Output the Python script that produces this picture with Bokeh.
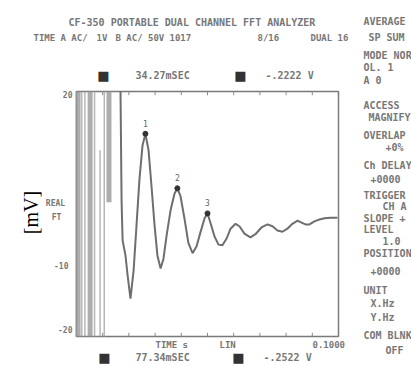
import numpy as np
from bokeh.plotting import figure
from bokeh.models import Range1d, Label
from bokeh.core.properties import value
from bokeh.embed import file_html
from bokeh.resources import INLINE

# ---- data (time in ms, amplitude in mV) ----
curve_t = [16.8, 17.2, 17.6, 18.7, 19.5, 20.6, 21.8, 22.9, 24.0, 25.2, 26.3, 27.5, 28.6,
           29.8, 30.9, 32.1, 33.2, 34.4, 35.9, 37.4, 38.5, 39.7, 41.2, 42.7, 44.3, 45.8,
           47.3, 48.9, 50.0, 51.1, 52.7, 54.2, 55.7, 57.3, 58.8, 60.7, 62.2, 64.1, 66.4,
           68.3, 70.6, 72.9, 74.8, 76.7, 78.6, 80.5, 82.4, 84.4, 85.9, 87.4, 88.9, 90.8,
           92.7, 94.7, 96.9, 99.6]
curve_v = [20.0, 2.2, -4.3, -6.8, -10.0, -13.8, -9.2, -1.9, 5.5, 11.2, 13.1, 10.4, 4.7,
           -1.9, -6.8, -8.9, -7.3, -3.5, 0.6, 3.3, 4.2, 2.9, -0.7, -4.7, -6.4, -5.3,
           -3.0, -0.7, 0.1, -1.4, -3.7, -5.0, -5.1, -4.0, -2.4, -1.6, -2.0, -3.2, -3.8,
           -3.3, -2.2, -1.7, -2.0, -2.7, -2.9, -2.4, -1.6, -1.1, -1.4, -1.7, -1.7, -1.2,
           -0.9, -0.7, -0.6, -0.6]

band_t = [0.6, 5.2, 12.4]
band_lo = [-20.0, -20.0, 1.9]
band_hi = [20.0, 20.0, 20.0]

thin_t = [2.0, 3.2, 6.9, 9.0, 10.6]
thin_lo = [-20.0, -20.0, -20.0, -20.0, -20.0]
thin_hi = [20.0, 20.0, 20.0, 10.4, 20.0]

peak_t = [26.3, 38.5, 50.0]
peak_v = [13.1, 4.2, 0.1]
peak_lbl = ["1", "2", "3"]

x_lim = [0, 100]
y_lim = [-20, 20]
x_ticks = [10, 20, 30, 40, 50, 60, 70, 80, 90]
y_tick_lbl = ["20", "-10", "-20"]

# page geometry: plot box spans x 76..338, y 91..336 of a 411x366 canvas
W, H = 411, 366
BX0, BX1, BY0, BY1 = 76, 338, 91, 336
sx = (x_lim[1] - x_lim[0]) / (BX1 - BX0)
sy = (y_lim[1] - y_lim[0]) / (BY1 - BY0)
xr = Range1d(x_lim[0] - BX0 * sx, x_lim[1] + (W - BX1) * sx)
yr = Range1d(y_lim[0] - (H - BY1) * sy, y_lim[1] + BY0 * sy)

p = figure(width=W, height=H, frame_width=W, frame_height=H, x_range=xr, y_range=yr,
           x_axis_location=None, y_axis_location=None,
           output_backend="svg", toolbar_location=None, min_border=0)
p.grid.visible = False
p.outline_line_color = None
p.background_fill_color = "white"
p.border_fill_color = "white"

# plot box and inner tick marks
p.quad(left=[x_lim[0]], right=[x_lim[1]], bottom=[y_lim[0]], top=[y_lim[1]],
       fill_color=None, line_color="#7a7a7a", line_width=1.5)
n = len(x_ticks)
p.segment(x0=x_ticks, x1=x_ticks, y0=[y_lim[1]] * n, y1=[y_lim[1] - 0.6] * n, line_color="#888888", line_width=1)
p.segment(x0=x_ticks, x1=x_ticks, y0=[y_lim[0]] * n, y1=[y_lim[0] + 0.6] * n, line_color="#888888", line_width=1)

p.segment(x0=band_t, x1=band_t, y0=band_lo, y1=band_hi, line_color="#999999", line_width=5, line_alpha=0.8)
p.segment(x0=thin_t, x1=thin_t, y0=thin_lo, y1=thin_hi, line_color="#a4a4a4", line_width=1.5, line_alpha=0.8)
p.line(curve_t, curve_v, line_color="#6e6e6e", line_width=2)
p.scatter(peak_t, peak_v, size=5, color="#333333")
p.text(peak_t, peak_v, text=peak_lbl, y_offset=-7, text_font=value("DejaVu Sans Mono"),
       text_font_size="8px", text_color="#666666", text_align="center", text_baseline="bottom")

GRAY = "#777777"


def lab(text, xp, yp, size=10, color=GRAY, align="left", font="DejaVu Sans Mono",
        style="bold", angle=0.0):
    p.add_layout(Label(x=xp, y=H - yp, x_units="screen", y_units="screen", text=text,
                       text_font=font, text_font_size=f"{size}px", text_color=color,
                       text_align=align, text_baseline="middle", angle=angle,
                       text_font_style=style))

# header
lab("CF-350 PORTABLE DUAL CHANNEL FFT ANALYZER", 68, 22, size=10)
lab("TIME", 33, 37, size=9)
lab("A AC/", 60, 37, size=9)
lab("1V", 96, 37, size=9)
lab("B AC/ 50V", 115, 37, size=9)
lab("1017", 169, 37, size=9)
lab("8/16", 257, 37, size=9)
lab("DUAL 16", 310, 37, size=9)
# cursor rows
for cx, cy in [(103, 75), (240, 75), (104, 357), (238, 357)]:
    lab("\u25a0", cx, cy, size=13, color="#333333", align="center", font="DejaVu Sans", style="normal")
lab("34.27mSEC", 135, 75, size=10)
lab("-.2222 V", 265, 75, size=10)
lab("77.34mSEC", 135, 357, size=10)
lab("-.2522 V", 263, 357, size=10)
# axis texts
lab(y_tick_lbl[0], 72, 94, size=8, align="right")
lab(y_tick_lbl[1], 68, 265, size=8, align="right")
lab(y_tick_lbl[2], 72, 329, size=8, align="right")
lab("REAL", 55, 203, size=8, align="center")
lab("FT", 56, 217, size=8, align="center")
lab("TIME s", 155, 344, size=9)
lab("LIN", 219, 344, size=9)
lab("0.1000", 312, 344, size=9)
lab("[mV]", 30, 212, size=20, color="#000000", align="center", font="Liberation Serif",
    style="normal", angle=np.pi / 2)
# right panel (text, x, y)
side = [("AVERAGE", 363, 21), ("SP SUM", 368, 37), ("MODE NOR", 363, 55), ("OL.   1", 363, 67),
        ("A     0", 363, 80), ("ACCESS", 363, 105), ("MAGNIFY", 368, 117), ("OVERLAP", 363, 135),
        ("+0%", 385, 147), ("Ch DELAY", 363, 165), ("+0000", 370, 178), ("TRIGGER", 363, 195),
        ("CH A", 382, 206), ("SLOPE +", 363, 218), ("LEVEL", 363, 229), ("1.0", 382, 240),
        ("POSITION", 363, 253), ("+0000", 370, 270), ("UNIT", 363, 290), ("X.Hz", 370, 303),
        ("Y.Hz", 370, 317), ("COM BLNK", 363, 335), ("OFF", 385, 350)]
for t, xx, yy in side:
    lab(t, xx, yy, size=10)

open("out.html", "w").write(file_html(p, INLINE))
